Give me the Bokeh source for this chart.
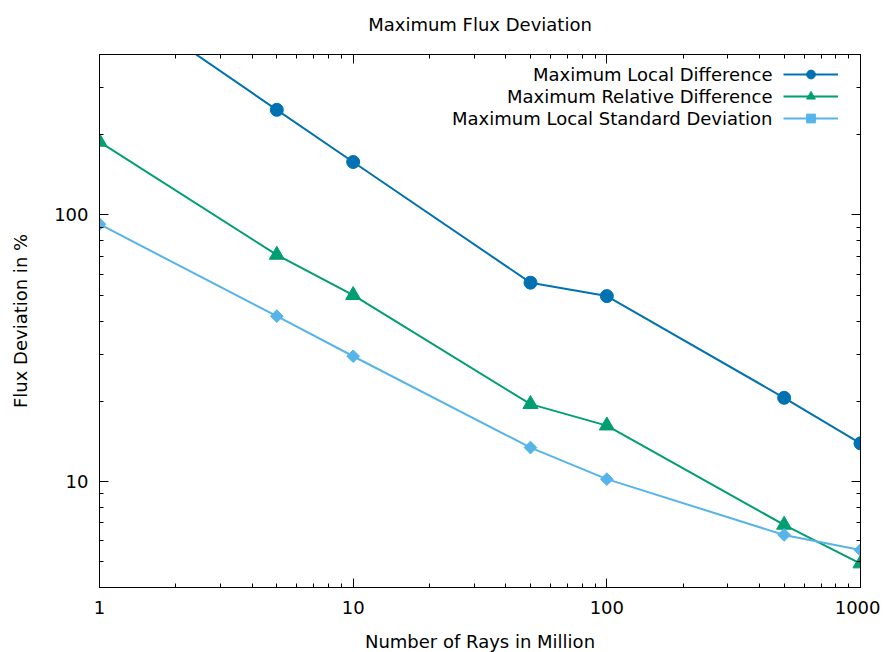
import math
from bokeh.plotting import figure
from bokeh.models import (LogAxis, FixedTicker, Range1d, Legend, LegendItem, Label,
                          PrintfTickFormatter)
from bokeh.embed import file_html
from bokeh.resources import INLINE

# ---- data ----
rays = [1, 5, 10, 50, 100, 500, 1000]
max_local_diff = [710, 248, 158, 55.7, 49.6, 20.6, 13.9]
max_rel_diff = [188, 70.8, 50, 19.5, 16.2, 6.87, 4.92]
max_local_std = [92.3, 41.7, 29.5, 13.4, 10.2, 6.3, 5.53]
series_names = ["Maximum Local Difference", "Maximum Relative Difference",
                "Maximum Local Standard Deviation"]
series_values = [max_local_diff, max_rel_diff, max_local_std]
title_text = "Maximum Flux Deviation"

major_ticks = [1, 10, 100, 1000]
minor_ticks = [m * d for d in (1, 10, 100) for m in range(2, 10)]

colors = ["#0072b2", "#009e73", "#56b4e9"]
markers = ["circle", "triangle", "square"]
marker_sizes = [13, 15, 9]
marker_angles = [0, 0, math.pi / 4]

FONT = "DejaVu Sans"
FS = "18px"
FRAME_W, FRAME_H = 761, 533

p = figure(x_axis_type="log", y_axis_type="log",
           x_range=Range1d(1, 1000), y_range=Range1d(4, 400),
           frame_width=FRAME_W, frame_height=FRAME_H,
           min_border_left=99, min_border_top=54, min_border_bottom=62, min_border_right=20,
           output_backend="svg", toolbar_location=None)
p.background_fill_color = "white"
p.border_fill_color = "white"
p.outline_line_color = "black"
p.outline_line_width = 1
p.xgrid.visible = False
p.ygrid.visible = False


def style(ax, show_labels=True):
    ax.ticker = FixedTicker(ticks=major_ticks, minor_ticks=minor_ticks)
    ax.formatter = PrintfTickFormatter(format="%d")
    ax.major_tick_in = 9
    ax.major_tick_out = 0
    ax.minor_tick_in = 4
    ax.minor_tick_out = 0
    ax.axis_line_color = "black"
    ax.major_tick_line_color = "black"
    ax.minor_tick_line_color = "black"
    ax.major_label_text_font = FONT
    ax.major_label_text_color = "black"
    ax.axis_label_text_font = FONT
    ax.axis_label_text_font_size = FS
    ax.axis_label_text_font_style = "normal"
    ax.axis_label_text_color = "black"
    if show_labels:
        ax.major_label_text_font_size = FS
    else:
        ax.major_label_text_font_size = "2px"
        ax.major_label_text_alpha = 0
        ax.major_label_standoff = 0


xa = p.xaxis[0]
ya = p.yaxis[0]
style(xa)
style(ya)
xa.axis_label = "Number of Rays in Million"
ya.axis_label = "Flux Deviation in %"
xa.major_label_standoff = 13
xa.axis_label_standoff = 14
ya.major_label_standoff = 11
ya.axis_label_standoff = 20

# mirrored axes; the top one carries the chart title as its label
top_ax = LogAxis()
right_ax = LogAxis()
style(top_ax, False)
style(right_ax, False)
top_ax.axis_label = title_text
top_ax.axis_label_standoff = 20
p.add_layout(top_ax, "above")
p.add_layout(right_ax, "right")

items = []
for name, vals, c, m, s, a in zip(series_names, series_values, colors, markers,
                                  marker_sizes, marker_angles):
    rl = p.line(rays, vals, line_width=2, line_color=c)
    rs = p.scatter(rays, vals, marker=m, size=s, angle=a, fill_color=c, line_color=c)
    items.append(LegendItem(label="", renderers=[rl, rs]))

legend = Legend(items=items, location=(684, 458), glyph_width=55, glyph_height=22,
                label_width=1, label_height=1, label_standoff=0, spacing=0,
                padding=0, margin=0, border_line_alpha=0, background_fill_alpha=0,
                label_text_font_size="2px", label_text_alpha=0)
p.add_layout(legend)

for i, name in enumerate(series_names):
    p.add_layout(Label(x=673, y=513 - 22 * i, x_units="screen", y_units="screen",
                       text=name, text_align="right", text_baseline="middle",
                       text_font=FONT, text_font_size=FS, text_color="black"))

open("out.html", "w").write(file_html(p, INLINE))
